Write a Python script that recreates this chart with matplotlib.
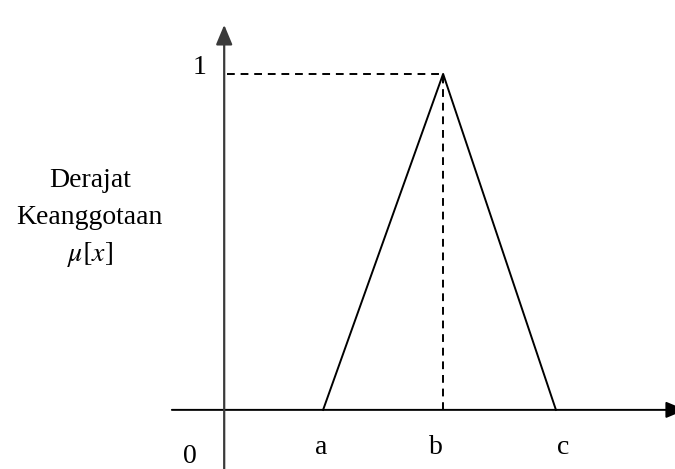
import matplotlib.pyplot as plt

# triangular membership function
x_points = [2.0, 4.5, 6.85]     # a, b, c
mu_points = [0.0, 1.0, 0.0]
x_labels = ['a', 'b', 'c']
y_label_lines = ['Derajat', 'Keanggotaan', r'$\mu[x]$']

plt.rcParams['font.family'] = ['Liberation Serif', 'DejaVu Serif']
plt.rcParams['mathtext.fontset'] = 'stix'

fig = plt.figure(figsize=(6.75, 4.69), dpi=100)
ax = fig.add_axes([0, 0, 1, 1])
ax.set_xlim(-4.73, 9.33)
ax.set_ylim(-0.176, 1.22)
ax.axis('off')

axis_col = '#3a3a3a'
head = '-|>,head_length=0.6,head_width=0.25'
# x axis with arrow (head runs off the right edge)
ax.annotate('', xy=(9.55, 0), xytext=(-1.15, 0), annotation_clip=False,
            arrowprops=dict(arrowstyle=head, mutation_scale=20,
                            color='black', lw=1.4, shrinkA=0, shrinkB=0))
# y axis with arrow
ax.annotate('', xy=(-0.06, 1.146), xytext=(-0.06, -0.176),
            annotation_clip=False,
            arrowprops=dict(arrowstyle=head, mutation_scale=20,
                            color=axis_col, lw=1.6, shrinkA=0, shrinkB=0))

# triangle
ax.plot(x_points, mu_points, color='black', lw=1.4)

# dashed guides to peak
peak = mu_points.index(max(mu_points))
ax.plot([0, x_points[peak]], [mu_points[peak]] * 2, color='black', lw=1.4,
        ls=(0, (4, 3)))
ax.plot([x_points[peak]] * 2, [0, mu_points[peak]], color='black', lw=1.4,
        ls=(0, (4, 3)))

fs = 20
ax.text(-0.58, 1.0, '1', fontsize=fs, ha='center', va='baseline')
ax.text(-0.77, -0.157, '0', fontsize=fs, ha='center', va='baseline')
label_dx = [-0.04, -0.15, 0.15]
for xv, dx, lab in zip(x_points, label_dx, x_labels):
    ax.text(xv + dx, -0.13, lab, fontsize=fs, ha='center', va='baseline')

for i, line in enumerate(y_label_lines):
    ax.text(-2.86, 0.664 - i * 0.11, line, fontsize=fs, ha='center',
            va='baseline')

fig.savefig('out.png', dpi=100)
